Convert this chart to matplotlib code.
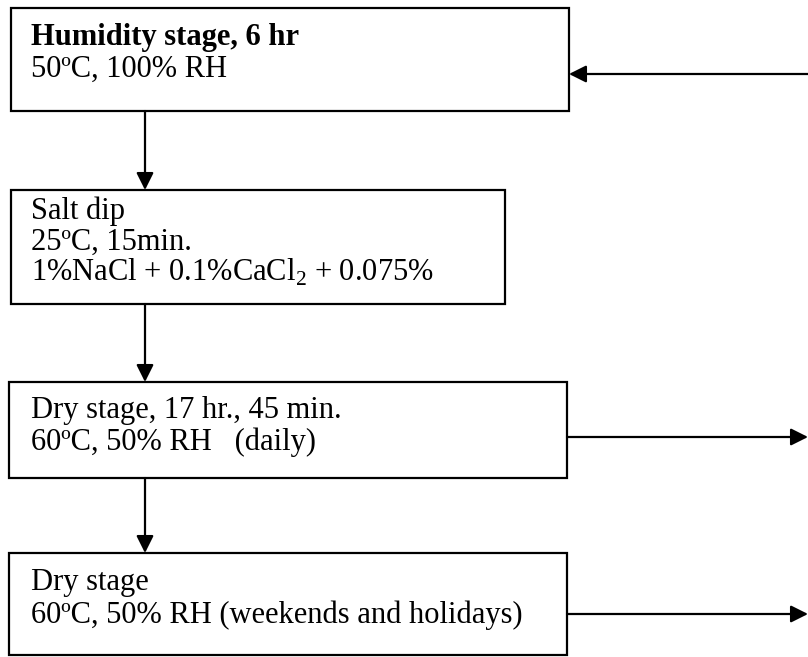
import matplotlib
matplotlib.use("Agg")
import matplotlib.pyplot as plt
from matplotlib.patches import Rectangle

plt.rcParams["font.family"] = ["Liberation Serif", "DejaVu Serif"]
plt.rcParams["mathtext.fontset"] = "custom"
plt.rcParams["mathtext.rm"] = "Liberation Serif"

# ── Content ───────────────────────────────────────────────────────────
titles = ["Humidity stage, 6 hr", "Salt dip", "Dry stage, 17 hr., 45 min.", "Dry stage"]
title_bold = [True, False, False, False]
details = [
    ["50ºC, 100% RH"],
    ["25ºC, 15min.", r"1%NaCl + 0.1%CaCl$_2$ + 0.075%"],
    ["60ºC, 50% RH   (daily)"],
    ["60ºC, 50% RH (weekends and holidays)"],
]

# ── Layout (pixels, y down) ───────────────────────────────────────────
boxes = [(11, 8, 569, 111), (11, 190, 505, 304), (9, 382, 567, 478), (9, 553, 567, 655)]
text_x = 31
font_size = 22
baselines = [[45, 77], [219, 250, 281], [418, 450], [590, 623]]
spine_x = 145
side_arrows = [(808, 569, 74), (567, 808, 437), (567, 808, 614)]

fig = plt.figure(figsize=(8.08, 6.57), dpi=100)
ax = fig.add_axes([0, 0, 1, 1])
ax.set_xlim(0, 808)
ax.set_ylim(657, 0)
ax.axis("off")

for i, (x0, y0, x1, y1) in enumerate(boxes):
    ax.add_patch(Rectangle((x0, y0), x1 - x0, y1 - y0, fill=False,
                           edgecolor="black", linewidth=1.6))
    lines = [titles[i]] + details[i]
    for k, txt in enumerate(lines):
        ax.text(text_x, baselines[i][k], txt, fontsize=font_size,
                fontweight="bold" if (k == 0 and title_bold[i]) else "normal",
                va="baseline", ha="left", color="black")

arrow_kw = dict(arrowstyle="-|>", color="black", lw=1.6, mutation_scale=26,
                shrinkA=0, shrinkB=0)
for a, b in zip(boxes[:-1], boxes[1:]):
    ax.annotate("", xy=(spine_x, b[1]), xytext=(spine_x, a[3]), arrowprops=arrow_kw)

for (xs, xe, y) in side_arrows:
    ax.annotate("", xy=(xe, y), xytext=(xs, y), arrowprops=arrow_kw)

fig.savefig("out.png", dpi=100, facecolor="white")
